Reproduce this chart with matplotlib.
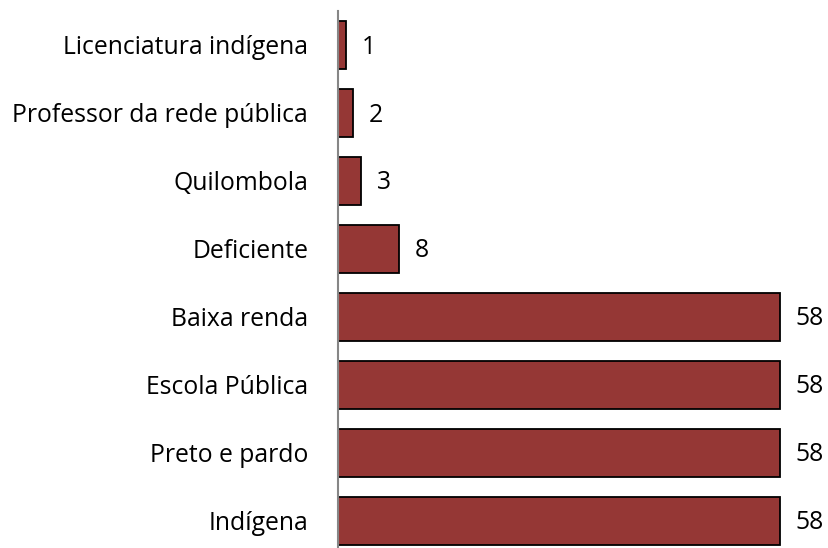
import matplotlib.pyplot as plt

categories = ["Indígena", "Preto e pardo", "Escola Pública", "Baixa renda",
              "Deficiente", "Quilombola", "Professor da rede pública",
              "Licenciatura indígena"]
values = [58, 58, 58, 58, 8, 3, 2, 1]

plt.rcParams["font.family"] = ["Open Sans", "DejaVu Sans"]

fig = plt.figure(figsize=(8.29, 5.48), dpi=100)
ax = fig.add_axes([338 / 829, 0, 457 / 829, 537 / 548])

ypos = range(len(categories))
ax.barh(ypos, values, height=0.7, color="#953735", edgecolor="black", linewidth=1.3)

for y, v in zip(ypos, values):
    ax.text(v + 2.1, y - 0.03, str(v), va="center", ha="left", fontsize=17.8)

ax.set_yticks(list(ypos))
ax.set_yticklabels(categories, fontsize=17.8)
ax.tick_params(axis="y", length=0, pad=21.5)
ax.set_xticks([])
ax.set_xlim(0, 60)
ax.set_ylim(-0.4, 7.5)
for s in ["top", "right", "bottom"]:
    ax.spines[s].set_visible(False)
ax.spines["left"].set_color("#868686")
ax.spines["left"].set_linewidth(1.5)

fig.savefig("out.png", dpi=100)
